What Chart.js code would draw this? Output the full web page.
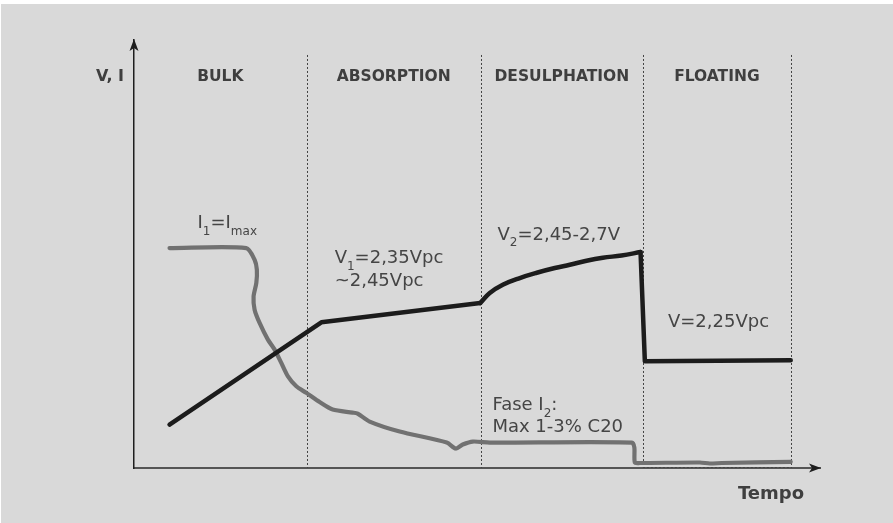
<!DOCTYPE html>
<html>
<head>
<meta charset="utf-8">
<script src="https://cdn.jsdelivr.net/npm/chart.js@4"></script>
<style>
html,body{margin:0;padding:0;background:#fff;}
#wrap{width:893px;height:523px;position:relative;}
</style>
</head>
<body>
<div id="wrap"><canvas id="c" width="893" height="523"></canvas></div>
<script>
// ---- data (time in arbitrary units 0..100, level in arbitrary units 0..100) ----
const phases = ['BULK', 'ABSORPTION', 'DESULPHATION', 'FLOATING'];
const phaseBounds = [0, 25.16, 50.55, 74.18, 95.76];

const voltageTime  = [5.18, 27.31, 50.47, 51.86, 53.76, 56.24, 58.72, 61.34, 63.53, 65.97, 68.34, 71.07, 73.84, 74.47, 95.73];
const voltageLevel = [10.15, 34.03, 38.55, 40.89, 42.82, 44.39, 45.62, 46.72, 47.49, 48.42, 49.12, 49.66, 50.46, 24.92, 25.16];

const currentTime  = [5.18, 16.37, 17.58, 17.91, 17.83, 17.43, 17.58, 18.31, 19.52, 20.50, 21.47, 22.44, 23.66, 25.12, 27.06, 28.96, 31.87, 32.60, 34.35, 38.73, 45.59, 46.90, 47.92, 49.38, 51.86, 72.58, 72.94, 73.01, 73.74, 82.49, 83.95, 85.70, 95.73];
const currentLevel = [51.39, 51.39, 48.66, 46.32, 43.22, 40.09, 36.99, 33.89, 29.99, 27.65, 24.55, 21.42, 19.09, 17.55, 15.4, 13.65, 12.95, 12.72, 10.85, 8.52, 5.95, 4.55, 5.48, 6.18, 5.95, 5.95, 4.78, 1.28, 1.17, 1.28, 1.05, 1.17, 1.45];

const axisLabelY = 'V, I';
const axisLabelX = 'Tempo';

// annotation texts (parts with sub:true are subscripts)
const annotations = [
  {x: 9.26,  y: 56.06, parts: [{t:'I'},{t:'1',sub:true},{t:'=I'},{t:'max',sub:true}]},
  {x: 29.25, y: 47.89, parts: [{t:'V'},{t:'1',sub:true},{t:'=2,35Vpc'}]},
  {x: 29.25, y: 42.59, parts: [{t:'~2,45Vpc'}]},
  {x: 52.98, y: 53.33, parts: [{t:'V'},{t:'2',sub:true},{t:'=2,45-2,7V'}]},
  {x: 77.83, y: 32.95, parts: [{t:'V=2,25Vpc'}]},
  {x: 52.25, y: 13.49, parts: [{t:'Fase I'},{t:'2',sub:true},{t:':'}]},
  {x: 52.25, y: 8.35,  parts: [{t:'Max 1-3% C20'}]}
];

const toXY = (xs, ys, a, b) => xs.slice(a, b).map((x, i) => ({x: x, y: ys.slice(a, b)[i]}));

const FONT = '"DejaVu Sans", sans-serif';

function drawRich(ctx, x, y, parts, size, color) {
  ctx.save();
  ctx.fillStyle = color;
  ctx.textBaseline = 'alphabetic';
  ctx.textAlign = 'left';
  let cx = x;
  parts.forEach(p => {
    const s = p.sub ? Math.round(size * 0.66) : size;
    ctx.font = s + 'px ' + FONT;
    ctx.fillText(p.t, cx, p.sub ? y + size * 0.36 : y);
    cx += ctx.measureText(p.t).width;
  });
  ctx.restore();
}

const decor = {
  id: 'decor',
  beforeDraw(chart) {
    const ctx = chart.ctx;
    ctx.save();
    ctx.fillStyle = '#ffffff';
    ctx.fillRect(0, 0, chart.width, chart.height);
    ctx.fillStyle = '#d9d9d9';
    ctx.fillRect(1, 4, chart.width - 1, chart.height - 4);
    ctx.restore();
  },
  beforeDatasetsDraw(chart) {
    const ctx = chart.ctx, xs = chart.scales.x, ys = chart.scales.y;
    ctx.save();
    ctx.strokeStyle = '#444444';
    ctx.lineWidth = 1;
    ctx.setLineDash([2, 2]);
    const top = ys.getPixelForValue(96.5), bot = ys.getPixelForValue(0);
    phaseBounds.slice(1).forEach(b => {
      const px = Math.round(xs.getPixelForValue(b)) + 0.5;
      ctx.beginPath(); ctx.moveTo(px, top); ctx.lineTo(px, bot); ctx.stroke();
    });
    const yb = Math.round(ys.getPixelForValue(0.3)) + 0.5;
    ctx.beginPath();
    ctx.moveTo(xs.getPixelForValue(phaseBounds[3]), yb);
    ctx.lineTo(xs.getPixelForValue(phaseBounds[4]), yb);
    ctx.stroke();
    ctx.restore();
  },
  afterDraw(chart) {
    const ctx = chart.ctx, xs = chart.scales.x, ys = chart.scales.y, a = chart.chartArea;
    ctx.save();
    ctx.fillStyle = '#1e1e1e';
    ctx.beginPath();
    ctx.moveTo(a.left, a.top - 1);
    ctx.lineTo(a.left - 4.5, a.top + 11);
    ctx.lineTo(a.left, a.top + 8);
    ctx.lineTo(a.left + 4.5, a.top + 11);
    ctx.closePath(); ctx.fill();
    ctx.beginPath();
    ctx.moveTo(a.right + 1, a.bottom);
    ctx.lineTo(a.right - 11, a.bottom - 4.5);
    ctx.lineTo(a.right - 8, a.bottom);
    ctx.lineTo(a.right - 11, a.bottom + 4.5);
    ctx.closePath(); ctx.fill();

    ctx.fillStyle = '#3f3f3f';
    ctx.font = 'bold 15.5px ' + FONT;
    ctx.textAlign = 'center';
    ctx.textBaseline = 'alphabetic';
    const ly = ys.getPixelForValue(90.43);
    phases.forEach((p, i) => {
      const cx = (xs.getPixelForValue(phaseBounds[i]) + xs.getPixelForValue(phaseBounds[i + 1])) / 2;
      ctx.fillText(p, cx, ly);
    });
    ctx.font = 'bold 16px ' + FONT;
    ctx.textAlign = 'right';
    ctx.fillText(axisLabelY, a.left - 10, ly);
    ctx.font = 'bold 18px ' + FONT;
    ctx.fillText(axisLabelX, xs.getPixelForValue(97.67), ys.getPixelForValue(-7.35));
    ctx.restore();

    annotations.forEach(an => {
      drawRich(ctx, xs.getPixelForValue(an.x), ys.getPixelForValue(an.y), an.parts, 18, '#454545');
    });
  }
};

const vStyle = {
  borderColor: '#1c1c1c', borderWidth: 4.5, pointRadius: 0,
  borderCapStyle: 'round', borderJoinStyle: 'round', fill: false
};

new Chart(document.getElementById('c'), {
  type: 'line',
  data: {
    datasets: [
      Object.assign({label: 'V', data: toXY(voltageTime, voltageLevel, 0, 3), tension: 0}, vStyle),
      Object.assign({label: 'V', data: toXY(voltageTime, voltageLevel, 2, 13), tension: 0.4}, vStyle),
      Object.assign({label: 'V', data: toXY(voltageTime, voltageLevel, 12, 15), tension: 0}, vStyle),
      {
        label: 'I',
        data: toXY(currentTime, currentLevel, 0, currentTime.length),
        borderColor: '#717171',
        borderWidth: 4.2,
        tension: 0.25,
        pointRadius: 0,
        borderCapStyle: 'round',
        borderJoinStyle: 'round',
        fill: false
      }
    ]
  },
  options: {
    responsive: false,
    animation: false,
    devicePixelRatio: 1,
    layout: {padding: {left: 134, top: 40, right: 73, bottom: 55}},
    plugins: {legend: {display: false}, tooltip: {enabled: false}},
    scales: {
      x: {
        type: 'linear', min: 0, max: 100,
        ticks: {display: false},
        grid: {display: false, drawTicks: false},
        border: {display: true, color: '#555555', width: 2}
      },
      y: {
        type: 'linear', min: 0, max: 100,
        ticks: {display: false},
        grid: {display: false, drawTicks: false},
        border: {display: true, color: '#1e1e1e', width: 1.5}
      }
    }
  },
  plugins: [decor]
});
</script>
</body>
</html>
